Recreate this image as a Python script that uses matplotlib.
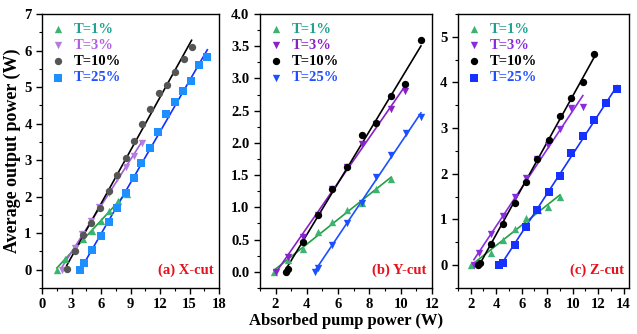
import matplotlib.pyplot as plt
import numpy as np
from matplotlib.ticker import MultipleLocator, FormatStrFormatter

plt.rcParams["font.family"] = ["Liberation Serif", "DejaVu Serif"]
plt.rcParams["font.weight"] = "bold"

labels = ["T=1%", "T=3%", "T=10%", "T=25%"]

# (a) X-cut
a_x1 = [1.5, 2.3, 3.3, 4.2, 5.1, 6.0, 6.8, 7.7, 8.6]
a_y1 = [0.0, 0.3, 0.6, 0.85, 1.05, 1.32, 1.6, 1.88, 2.07]
a_x3 = [2.0, 3.3, 4.1, 5.0, 5.8, 6.8, 7.6, 8.5, 9.3, 10.2]
a_y3 = [0.0, 0.6, 0.97, 1.32, 1.72, 2.1, 2.5, 2.8, 3.1, 3.48]
a_x10 = [2.5, 3.4, 4.2, 5.0, 5.9, 6.8, 7.6, 8.5, 9.3, 10.2, 11.0, 11.9, 12.7, 13.5, 14.4, 15.2]
a_y10 = [0.03, 0.5, 0.95, 1.28, 1.7, 2.15, 2.6, 3.07, 3.52, 3.98, 4.4, 4.85, 5.05, 5.42, 5.76, 6.09]
a_x25 = [3.85, 4.3, 5.1, 6.0, 6.8, 7.6, 8.5, 9.3, 10.1, 11.0, 11.8, 12.6, 13.5, 14.3, 15.1, 16.0, 16.8]
a_y25 = [0.0, 0.17, 0.54, 0.92, 1.3, 1.7, 2.1, 2.52, 2.92, 3.33, 3.78, 4.27, 4.6, 4.9, 5.17, 5.6, 5.82]

# (b) Y-cut
b_x1 = [1.9, 2.8, 3.75, 4.7, 5.6, 6.55, 7.5, 8.45, 9.4]
b_y1 = [0.0, 0.18, 0.36, 0.61, 0.77, 0.96, 1.07, 1.29, 1.44]
b_x3 = [2.0, 2.8, 3.75, 4.7, 5.6, 6.55, 7.5, 8.45, 9.4, 10.3]
b_y3 = [0.0, 0.23, 0.54, 0.88, 1.29, 1.63, 1.98, 2.3, 2.53, 2.81]
b_x10 = [2.65, 2.8, 3.75, 4.7, 5.6, 6.55, 7.5, 8.45, 9.4, 10.3, 11.3]
b_y10 = [0.0, 0.04, 0.46, 0.88, 1.29, 1.63, 2.12, 2.31, 2.73, 2.91, 3.6]
b_x25 = [4.5, 4.7, 5.6, 6.55, 7.5, 8.45, 9.4, 10.35, 11.3]
b_y25 = [0.0, 0.06, 0.41, 0.76, 1.07, 1.47, 1.82, 2.15, 2.4]

# (c) Z-cut
c_x1 = [2.0, 3.6, 4.55, 5.45, 6.35, 7.25, 8.1, 9.0]
c_y1 = [0.0, 0.26, 0.55, 0.78, 1.04, 1.2, 1.28, 1.5]
c_x3 = [2.25, 2.65, 3.6, 4.5, 5.45, 6.35, 7.2, 8.1, 9.0, 9.9, 10.8]
c_y3 = [0.0, 0.26, 0.69, 1.08, 1.5, 1.9, 2.32, 2.62, 2.98, 3.44, 3.46]
c_x10 = [2.6, 2.7, 3.6, 4.5, 5.45, 6.35, 7.2, 8.15, 9.0, 9.9, 10.8, 11.7]
c_y10 = [0.0, 0.04, 0.47, 0.91, 1.35, 1.81, 2.32, 2.75, 3.26, 3.67, 4.01, 4.62]
c_x25 = [4.25, 4.5, 5.45, 6.35, 7.2, 8.15, 9.0, 9.9, 10.8, 11.7, 12.6, 13.5]
c_y25 = [0.0, 0.05, 0.44, 0.84, 1.21, 1.6, 1.96, 2.46, 2.82, 3.18, 3.56, 3.86]

panels = [
    dict(rect=[0.066, 0.138, 0.278, 0.82], tag="(a) X-cut",
         data=[(a_x1, a_y1), (a_x3, a_y3), (a_x10, a_y10), (a_x25, a_y25)],
         markers=["^", "v", "o", "s"],
         mcolors=["#3cb371", "#b57edc", "#555555", "#1e8fff"],
         lcolors=["#22a040", "#a45ee0", "#000000", "#1030ff"],
         tcolors=["#20a090", "#b060e0", "#000000", "#2050ff"],
         xlim=(0, 18), ylim=(-0.5, 7), xmaj=3, xmin=1.5, ymaj=1, ymin=0.5, yfmt="%d"),
    dict(rect=[0.408, 0.138, 0.27, 0.82], tag="(b) Y-cut",
         data=[(b_x1, b_y1), (b_x3, b_y3), (b_x10, b_y10), (b_x25, b_y25)],
         markers=["^", "v", "o", "v"],
         mcolors=["#3cb371", "#8a20c8", "#000000", "#1a50ff"],
         lcolors=["#22a040", "#8a20c8", "#000000", "#1a50ff"],
         tcolors=["#20a090", "#8a20c8", "#000000", "#2050ff"],
         xlim=(1, 12), ylim=(-0.25, 4.0), xmaj=2, xmin=1, ymaj=0.5, ymin=0.25, yfmt="%.1f"),
    dict(rect=[0.719, 0.138, 0.268, 0.82], tag="(c) Z-cut",
         data=[(c_x1, c_y1), (c_x3, c_y3), (c_x10, c_y10), (c_x25, c_y25)],
         markers=["^", "v", "o", "s"],
         mcolors=["#3cb371", "#8a2be2", "#000000", "#1530ff"],
         lcolors=["#22a040", "#8a2be2", "#000000", "#1530ff"],
         tcolors=["#20a090", "#8a2be2", "#000000", "#2050ff"],
         xlim=(1, 14.4), ylim=(-0.5, 5.5), xmaj=2, xmin=1, ymaj=1, ymin=0.5, yfmt="%d"),
]

fig = plt.figure(figsize=(6.37, 3.34), dpi=100)

for p in panels:
    ax = fig.add_axes(p["rect"])
    handles = []
    for (x, y), m, mc, lc, lab in zip(p["data"], p["markers"], p["mcolors"],
                                      p["lcolors"], labels):
        x = np.array(x)
        y = np.array(y)
        k, b = np.polyfit(x, y, 1)
        xx = np.array([x.min(), x.max()])
        ax.plot(xx, k * xx + b, color=lc, lw=1.2, zorder=2)
        h = ax.scatter(x, y, marker=m, s=28, color=mc, zorder=3, label=lab,
                       linewidths=0)
        handles.append(h)
    leg = ax.legend(handles=handles, loc="upper left", frameon=False,
                    fontsize=10.5, handletextpad=0.6, borderaxespad=0.2,
                    handlelength=1.0, labelspacing=0.2, borderpad=0.4,
                    scatterpoints=1)
    for t, c in zip(leg.get_texts(), p["tcolors"]):
        t.set_color(c)
    ax.text(0.97, 0.04, p["tag"], transform=ax.transAxes, ha="right",
            va="bottom", color="#e8101a", fontsize=10.5, fontweight="bold")
    ax.set_xlim(*p["xlim"])
    ax.set_ylim(*p["ylim"])
    ax.xaxis.set_major_locator(MultipleLocator(p["xmaj"]))
    ax.xaxis.set_minor_locator(MultipleLocator(p["xmin"]))
    ax.yaxis.set_major_locator(MultipleLocator(p["ymaj"]))
    ax.yaxis.set_minor_locator(MultipleLocator(p["ymin"]))
    ax.yaxis.set_major_formatter(FormatStrFormatter(p["yfmt"]))
    ax.tick_params(which="major", length=4, width=1.0, labelsize=10.5)
    ax.tick_params(which="minor", length=2, width=0.8)
    for s in ax.spines.values():
        s.set_linewidth(1.0)
    for lbl in ax.get_xticklabels() + ax.get_yticklabels():
        lbl.set_fontweight("bold")
    if p["tag"].startswith("(a)"):
        ax.set_ylabel("Average output power (W)", fontsize=13, fontweight="bold",
                      labelpad=2)
    if p["tag"].startswith("(b)"):
        ax.set_xlabel("Absorbed pump power (W)", fontsize=12, fontweight="bold",
                      labelpad=1)

fig.savefig("out.png", dpi=100)
